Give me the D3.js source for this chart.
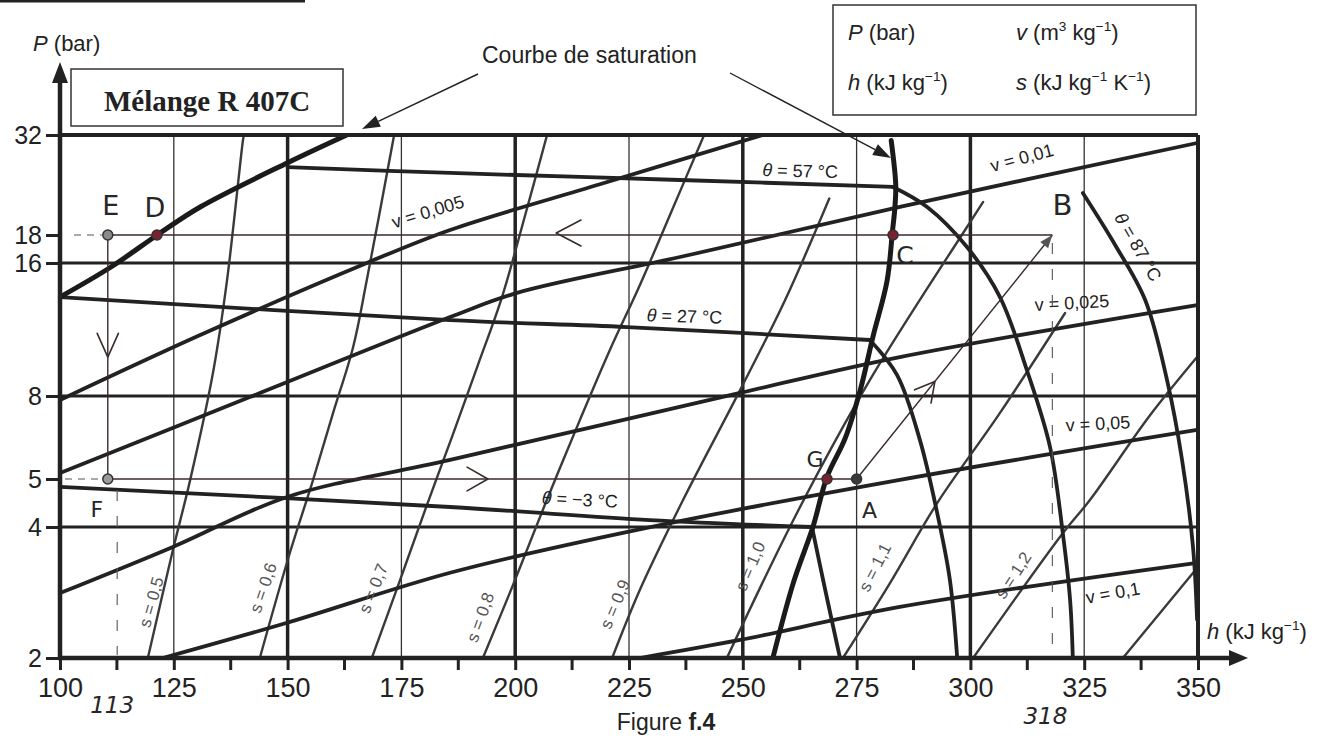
<!DOCTYPE html>
<html>
<head>
<meta charset="utf-8">
<script src="https://cdn.jsdelivr.net/npm/d3@7/dist/d3.min.js"></script>
<style>
  body { margin: 0; background: #fff; }
  svg { display: block; }
  text { font-family: "Liberation Sans", Arial, sans-serif; fill: #222; }
  text.title { font-family: "Liberation Serif", "Times New Roman", serif; font-weight: bold; }
  .hand { font-family: "DejaVu Sans", sans-serif; font-weight: normal; fill: #262626; }
</style>
</head>
<body>
<svg id="chart" width="1340" height="740"></svg>
<script>
// ---- axes and grid
const hTicks = [100, 125, 150, 175, 200, 225, 250, 275, 300, 325, 350];
const hMinor = [112.5, 137.5, 162.5, 187.5, 212.5, 237.5, 262.5, 287.5, 312.5, 337.5];
const hGridBold = [150, 200, 250, 300];
const hGridThin = [125, 175, 225, 275, 325];
const pTicks = [2, 4, 5, 8, 16, 18, 32];
const pGrid = [4, 8, 16];

// ---- saturation curve, [h kJ/kg, P bar]
const satLiquid = [[100, 13.4], [111.2, 15.67], [122.0, 18.21], [130.8, 21.15], [149.9, 27.24], [163.0, 32]];
const satVapour = [[282.6, 31.0], [283.6, 24.0], [283.4, 21.0], [282.9, 18.5], [281.7, 14.6], [278.6, 10.9],
                   [275.8, 8.25], [272.5, 6.3], [268.5, 5.06], [265.4, 4.0], [261.2, 3.0], [256.6, 2.0]];

// ---- isotherms : [mixture part, superheated part]
const isoT87 = [[], [[324.7, 22.92], [331.8, 17.26], [338.4, 13.19], [343.2, 8.69], [346.5, 5.57], [348.9, 3.6], [349.8, 2.45]]];
const isoT57 = [[[150, 26.6], [185.7, 25.72], [236.2, 24.7], [283.0, 23.73]],
                [[283.0, 23.73], [290.5, 21.15], [299.25, 17.11], [306.5, 13.4], [312.4, 9.16], [317.5, 5.99], [320.3, 3.87], [321.9, 2.72], [322.5, 2.0]]];
const isoT27 = [[[100, 13.4], [185.7, 11.88], [224.6, 11.46], [277.9, 10.71]],
                [[277.9, 10.71], [283.9, 8.92], [288.9, 6.24], [292.7, 4.27], [295.5, 3.02], [297.1, 2.0]]];
const isoTm3 = [[[100, 4.82], [185.7, 4.39], [229.6, 4.13], [265.2, 4.0]],
                [[265.2, 4.0], [268.1, 2.87], [271.35, 2.0]]];

// ---- isochores v (m3/kg)
const isoV005 = [[100, 7.82], [130.8, 10.99], [167.4, 16.0], [185.7, 18.53], [218.6, 24.1], [254.4, 32]];
const isoV01 = [[100, 5.17], [141.7, 7.95], [185.7, 12.07], [200.4, 13.69], [236.2, 16.41], [284.5, 21.15], [349.8, 30.56]];
const isoV025 = [[100, 2.82], [124.8, 3.6], [149.9, 4.6], [185.7, 5.57], [249.4, 8.13], [284.5, 9.8], [349.8, 12.85]];
const isoV05 = [[122.6, 2.0], [149.9, 2.41], [185.7, 3.14], [226.8, 3.94], [284.5, 4.98], [349.8, 6.6]];
const isoV1 = [[227.4, 2.0], [249.4, 2.2], [284.5, 2.62], [349.8, 3.31]];

// ---- isentropes s (kJ/kg/K)
const isoS05 = [[119.3, 2.0], [124.8, 3.54], [128.6, 4.98], [133.6, 9.02], [136.7, 14.64], [140.2, 31.1], [140.4, 32]];
const isoS06 = [[143.9, 2.0], [150.5, 3.49], [155.6, 4.98], [160.0, 7.27], [164.4, 10.33], [167.4, 14.64], [173.2, 31.1], [173.4, 32]];
const isoS07 = [[168.5, 2.0], [174.7, 3.02], [180.6, 4.43], [186.1, 6.34], [191.8, 9.4], [197.1, 13.4], [202.2, 20.2], [207.0, 32]];
const isoS08 = [[192.9, 2.0], [199.5, 2.94], [206.5, 4.43], [214.2, 6.98], [220.8, 10.17], [227.4, 14.27], [234.0, 20.2], [241.5, 32]];
const isoS09 = [[221.3, 2.0], [227.4, 2.87], [236.9, 4.54], [249.4, 8.25], [259.3, 13.19], [269.0, 22.2]];
const isoS10 = [[246.5, 2.0], [261.9, 4.27], [277.9, 8.69], [299.25, 18.85], [302.8, 21.77]];
const isoS11 = [[272.0, 2.0], [282.3, 2.97], [292.7, 4.47], [306.5, 7.27], [320.8, 12.33]];
const isoS12 = [[300.6, 2.0], [320.3, 3.87], [326.3, 4.54], [339.5, 7.18], [349.8, 9.8]];
const isoS13 = [[333.5, 2.0], [349.8, 3.22]];

// ---- cycle drawn on the chart (name, h, P)
const cyclePts = [["E", 110.5, 18], ["D", 121.3, 18], ["C", 283, 18], ["B", 318, 18],
                  ["A", 275, 5], ["G", 268.5, 5], ["F", 110.5, 5]];
const markH = [113, 318];

// ---------------------------------------------------------------
const svg = d3.select("#chart");
const x = d3.scaleLinear().domain([100, 350]).range([60, 1198]);
// the printed pressure axis is close to logarithmic; follow its tick positions
const y = d3.scaleLog().domain(pTicks).range([658, 527, 479, 396, 263, 235, 135]);
const ink = "#222";

const line = d3.line().x(d => x(d[0])).y(d => y(d[1])).curve(d3.curveCatmullRom.alpha(0.5));

svg.append("defs").append("clipPath").attr("id", "plot")
  .append("rect").attr("x", x(100)).attr("y", y(32)).attr("width", x(350) - x(100)).attr("height", y(2) - y(32));

// page rule at the very top
svg.append("line").attr("x1", 0).attr("x2", 305).attr("y1", 1).attr("y2", 1).attr("stroke", ink).attr("stroke-width", 3);

// grid
const grid = svg.append("g");
grid.selectAll(".vt").data(hGridThin).join("line")
  .attr("x1", d => x(d)).attr("x2", d => x(d)).attr("y1", y(2)).attr("y2", y(32))
  .attr("stroke", "#333").attr("stroke-width", 1.3);
grid.selectAll(".vb").data(hGridBold).join("line")
  .attr("x1", d => x(d)).attr("x2", d => x(d)).attr("y1", y(2)).attr("y2", y(32))
  .attr("stroke", ink).attr("stroke-width", 3.5);
grid.selectAll(".hp").data(pGrid).join("line")
  .attr("x1", x(100)).attr("x2", x(350)).attr("y1", d => y(d)).attr("y2", d => y(d))
  .attr("stroke", ink).attr("stroke-width", 3);

// curves
const curves = svg.append("g").attr("clip-path", "url(#plot)").attr("fill", "none").attr("stroke-linecap", "round");
[isoS05, isoS06, isoS07, isoS08, isoS09, isoS10, isoS11, isoS12, isoS13].forEach(s => {
  curves.append("path").attr("d", line(s)).attr("stroke", "#3a3a3a").attr("stroke-width", 2.4);
});
[isoV005, isoV01, isoV025, isoV05, isoV1].forEach(v => {
  curves.append("path").attr("d", line(v)).attr("stroke", ink).attr("stroke-width", 3.8);
});
[isoT87, isoT57, isoT27, isoTm3].forEach(t => {
  t.filter(seg => seg.length).forEach(seg => {
    curves.append("path").attr("d", line(seg)).attr("stroke", ink).attr("stroke-width", 3.8);
  });
});
[satLiquid, satVapour].forEach(c => {
  curves.append("path").attr("d", line(c)).attr("stroke", "#1a1a1a").attr("stroke-width", 5);
});

// borders
svg.append("line").attr("x1", x(100)).attr("x2", x(350)).attr("y1", y(32)).attr("y2", y(32)).attr("stroke", ink).attr("stroke-width", 4);
svg.append("line").attr("x1", x(350)).attr("x2", x(350)).attr("y1", y(32)).attr("y2", y(2)).attr("stroke", ink).attr("stroke-width", 4);

// axes
const xAxis = svg.append("g").attr("transform", `translate(0,${y(2)})`)
  .call(d3.axisBottom(x).tickValues(hTicks).tickSize(12).tickPadding(8).tickFormat(d3.format("d")));
xAxis.select(".domain").remove();
xAxis.selectAll(".tick line").attr("stroke", ink).attr("stroke-width", 3);
xAxis.selectAll(".tick text").attr("font-size", 27).attr("fill", "#333");
svg.append("g").selectAll("line").data(hMinor).join("line")
  .attr("x1", d => x(d)).attr("x2", d => x(d)).attr("y1", y(2)).attr("y2", y(2) + 12)
  .attr("stroke", ink).attr("stroke-width", 3);

const yAxis = svg.append("g").attr("transform", `translate(${x(100)},0)`)
  .call(d3.axisLeft(y).tickValues(pTicks).tickSize(14).tickPadding(4).tickFormat(d3.format("d")));
yAxis.select(".domain").remove();
yAxis.selectAll(".tick line").attr("stroke", ink).attr("stroke-width", 3);
yAxis.selectAll(".tick text").attr("font-size", 25).attr("fill", "#333");

svg.append("line").attr("x1", x(100)).attr("x2", x(100)).attr("y1", y(2) + 2).attr("y2", 78).attr("stroke", ink).attr("stroke-width", 4.5);
svg.append("path").attr("d", `M${x(100)},62 L${x(100) - 8},83 L${x(100) + 8},83 Z`).attr("fill", ink);
svg.append("line").attr("x1", x(100) - 2).attr("x2", 1234).attr("y1", y(2)).attr("y2", y(2)).attr("stroke", ink).attr("stroke-width", 4.5);
svg.append("path").attr("d", `M1248,${y(2)} L1229,${y(2) - 8} L1229,${y(2) + 8} Z`).attr("fill", ink);

// ---- text helpers
function rich(parent, x0, y0, parts, size, anchor) {
  const t = parent.append("text").attr("x", x0).attr("y", y0).attr("font-size", size)
    .attr("text-anchor", anchor || "start");
  let up = false;
  parts.forEach(([s, k]) => {
    const ts = t.append("tspan").text(s);
    if (k === "sup") {
      ts.attr("font-size", size * 0.62);
      if (!up) { ts.attr("dy", -size * 0.4); up = true; }
    } else {
      if (up) { ts.attr("dy", size * 0.4); up = false; }
      if (k === "i") ts.attr("font-style", "italic");
      if (k === "b") ts.attr("font-weight", "bold");
    }
  });
  return t;
}

const notes = svg.append("g");
function note(parts, h, p, ang, size, fill) {
  const g = notes.append("g").attr("transform", `translate(${x(h)},${y(p)}) rotate(${ang})`);
  rich(g, 0, 0, parts, size, "middle").attr("dominant-baseline", "central").style("fill", fill || "#222");
}

// isotherm labels
note([["θ", "i"], [" = 57 °C"]], 262.6, 26.0, 1.5, 18);
note([["θ", "i"], [" = 27 °C"]], 237.2, 12.11, 2, 18);
note([["θ", "i"], [" = −3 °C"]], 214.2, 4.54, 3, 18);
note([["θ", "i"], [" = 87 °C"]], 336.8, 17.11, 60, 18);
// isochore labels
note([["v = 0,005"]], 180.8, 20.55, -17, 18);
note([["v = 0,01"]], 311.3, 28.03, -15, 18);
note([["v = 0,025"]], 322.3, 12.99, -3, 18);
note([["v = 0,05"]], 328.0, 6.83, -3, 18);
note([["v = 0,1"]], 331.3, 2.82, -10, 18);
// isentrope labels
const sNotes = [["s = 0,5", 120.0, 2.69, -74], ["s = 0,6", 144.6, 2.90, -71], ["s = 0,7", 168.8, 2.89, -68],
                ["s = 0,8", 192.3, 2.48, -70], ["s = 0,9", 221.9, 2.66, -67], ["s = 1,0", 251.6, 3.25, -67],
                ["s = 1,1", 279.0, 3.23, -63], ["s = 1,2", 309.4, 3.10, -57]];
sNotes.forEach(([t, h, p, a]) => note([[t]], h, p, a, 17, "#555"));

// title box
svg.append("rect").attr("x", 71).attr("y", 69).attr("width", 272).attr("height", 57)
  .attr("fill", "#fff").attr("stroke", "#333").attr("stroke-width", 1.5);
svg.append("text").attr("class", "title").attr("x", 207).attr("y", 111).attr("text-anchor", "middle")
  .attr("font-size", 29).text("Mélange R 407C");

// legend box
svg.append("rect").attr("x", 833).attr("y", 5).attr("width", 363).attr("height", 110)
  .attr("fill", "none").attr("stroke", "#333").attr("stroke-width", 1.5);
rich(svg, 848, 40, [["P", "i"], [" (bar)"]], 22);
rich(svg, 1016, 40, [["v", "i"], [" (m"], ["3", "sup"], [" kg"], ["−1", "sup"], [")"]], 22);
rich(svg, 848, 90, [["h", "i"], [" (kJ kg"], ["−1", "sup"], [")"]], 22);
rich(svg, 1016, 90, [["s", "i"], [" (kJ kg"], ["−1", "sup"], [" K"], ["−1", "sup"], [")"]], 22);

// axis titles & caption
rich(svg, 33, 51, [["P", "i"], [" (bar)"]], 22);
rich(svg, 1207, 639, [["h", "i"], [" (kJ kg"], ["−1", "sup"], [")"]], 22);
rich(svg, 666, 730, [["Figure "], ["f.4", "b"]], 23, "middle");

// saturation callout
svg.append("text").attr("x", 482).attr("y", 63).attr("font-size", 23).text("Courbe de saturation");
function callout(x1, y1, x2, y2) {
  const a = Math.atan2(y2 - y1, x2 - x1), L = 18, w = 6;
  const bx = x2 - L * Math.cos(a), by = y2 - L * Math.sin(a);
  svg.append("line").attr("x1", x1).attr("y1", y1).attr("x2", bx).attr("y2", by).attr("stroke", ink).attr("stroke-width", 1.4);
  svg.append("path").attr("fill", ink).attr("d",
    `M${x2},${y2} L${bx + w * Math.sin(a)},${by - w * Math.cos(a)} L${bx - w * Math.sin(a)},${by + w * Math.cos(a)} Z`);
}
callout(478, 74, 362, 129);
callout(730, 73, 891, 158);

// ---- cycle (hand drawn)
const cyc = svg.append("g");
const P = n => cyclePts.find(d => d[0] === n);
const cx = n => x(P(n)[1]), cy = n => y(P(n)[2]);
const pen = "#3a2a2a";
const seg = (x1, y1, x2, y2, w, dash) => cyc.append("line").attr("x1", x1).attr("y1", y1).attr("x2", x2).attr("y2", y2)
  .attr("stroke", dash ? "#555" : pen).attr("stroke-width", w).attr("stroke-dasharray", dash || null);

seg(cx("E"), cy("E"), cx("B"), cy("B"), 1.6);
seg(cx("F"), cy("F"), cx("A"), cy("A"), 1.6);
seg(cx("E"), cy("E"), cx("F"), cy("F"), 1.4);
seg(cx("A"), cy("A"), cx("B"), cy("B"), 1.4);
seg(x(100) + 14, cy("E"), cx("E") - 6, cy("E"), 1.1, "7,6");
seg(x(100) + 5, cy("F"), cx("F") - 6, cy("F"), 1.1, "7,6");
seg(x(markH[0]) - 2, y(4.75), x(markH[0]) - 2, y(2) - 3, 1.1, "11,15");
seg(x(markH[1]), cy("B") + 8, x(markH[1]), y(2) - 3, 1.1, "11,15");

function chevron(px, py, ang, len, spread) {
  const a1 = ang + Math.PI - spread, a2 = ang + Math.PI + spread;
  cyc.append("path").attr("fill", "none").attr("stroke", pen).attr("stroke-width", 1.6)
    .attr("stroke-linecap", "round").attr("stroke-linejoin", "round")
    .attr("d", `M${px + len * Math.cos(a1)},${py + len * Math.sin(a1)} L${px},${py} L${px + len * Math.cos(a2)},${py + len * Math.sin(a2)}`);
}
chevron(x(209), y(18) - 2, Math.PI, 28, 0.48);
chevron(x(194), y(5), 0, 24, 0.52);
chevron(cx("E"), y(9.8), Math.PI / 2, 26, 0.42);
const abAng = Math.atan2(cy("B") - cy("A"), cx("B") - cx("A"));
chevron(cx("A") + 0.4 * (cx("B") - cx("A")), cy("A") + 0.4 * (cy("B") - cy("A")), abAng, 22, 0.5);
{
  const bx = cx("B"), by = cy("B"), L = 13, w = 5;
  const ex = bx - L * Math.cos(abAng), ey = by - L * Math.sin(abAng);
  cyc.append("path").attr("fill", "#555").attr("d",
    `M${bx},${by} L${ex + w * Math.sin(abAng)},${ey - w * Math.cos(abAng)} L${ex - w * Math.sin(abAng)},${ey + w * Math.cos(abAng)} Z`);
}

const dotFill = { E: "#8a8a8a", D: "#7a2230", C: "#7a2230", G: "#7a2230", A: "#3a3a3a", F: "#9a9a9a" };
cyc.selectAll("circle").data(cyclePts.filter(d => d[0] !== "B")).join("circle")
  .attr("cx", d => x(d[1])).attr("cy", d => y(d[2])).attr("r", 5)
  .attr("fill", d => dotFill[d[0]]).attr("stroke", "#333").attr("stroke-width", 1.5);

const letterOff = { E: [3, -30, 27], D: [-2, -28, 27], C: [12, 20, 25], B: [10, -30, 29], G: [-12, -20, 22], A: [13, 31, 22], F: [-11, 30, 22] };
cyclePts.forEach(([n, h, p]) => {
  const [dx, dy, fs] = letterOff[n];
  cyc.append("text").attr("class", "hand").attr("x", x(h) + dx).attr("y", y(p) + dy)
    .attr("text-anchor", "middle").attr("dominant-baseline", "central").attr("font-size", fs).text(n);
});
markH.forEach((h, i) => {
  cyc.append("text").attr("class", "hand").attr("x", x(h) - 7).attr("y", y(2) + (i ? 58 : 47))
    .attr("text-anchor", "middle").attr("dominant-baseline", "central").attr("font-size", 23)
    .attr("font-style", "italic").text(h);
});
</script>
</body>
</html>
